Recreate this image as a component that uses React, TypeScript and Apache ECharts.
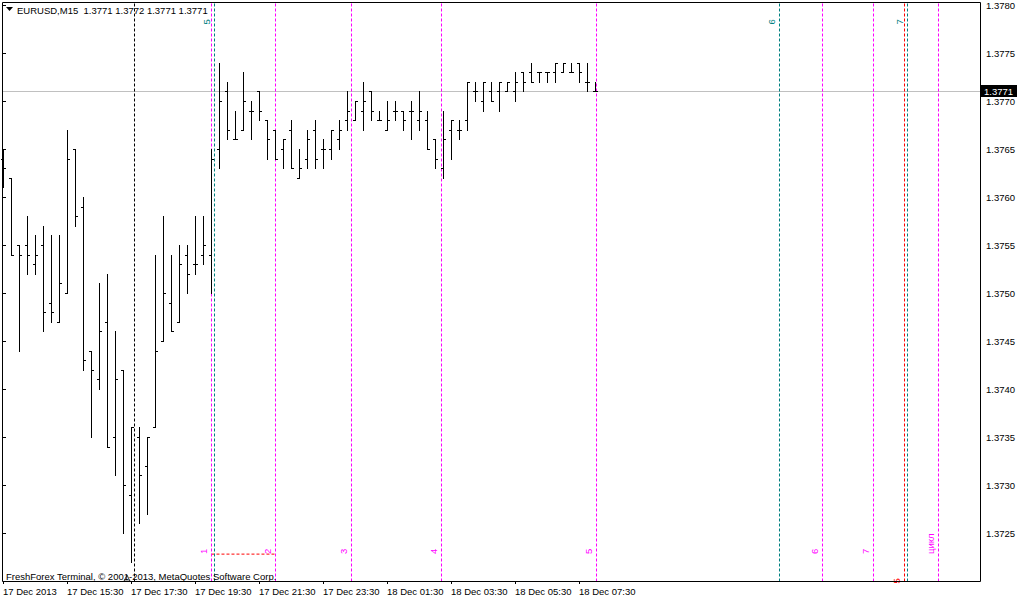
import React, { useEffect, useRef } from "react";
import * as echarts from "echarts";

const FONT = "'Liberation Sans', Arial, sans-serif";
const FS = 9.5;
const Y_MIN = 1.372;
const Y_MAX = 1.378;
const Y_STEP = 0.0005;
const X_MIN = -0.125;
const X_MAX = 122.125;
const CURRENT_PRICE = 1.3771;

// 15-minute bars, 17 Dec 2013 13:30 onwards
const opens = [
  1.3764, 1.3762, 1.3755, 1.3755, 1.3753, 1.3755, 1.3749, 1.3747, 1.375, 1.3765,
  1.3759, 1.3744, 1.3741, 1.3747, 1.3735, 1.3742, 1.3729, 1.3735, 1.3732, 1.3736,
  1.3745, 1.3749, 1.3747, 1.3754, 1.3753, 1.3754, 1.3754, 1.3765, 1.3771, 1.3766,
  1.3767, 1.3769, 1.3771, 1.3768, 1.3767, 1.3765, 1.3767, 1.3762, 1.3764, 1.3767,
  1.3765, 1.3765, 1.3766, 1.3768, 1.3768, 1.3769, 1.3771, 1.3768, 1.3767, 1.3769,
  1.3769, 1.3769, 1.3768, 1.3768, 1.3766, 1.3763, 1.3767, 1.3767, 1.3768, 1.3771,
  1.377, 1.3771, 1.3771, 1.3771, 1.3771, 1.3773, 1.3773, 1.3773, 1.3773, 1.3773,
  1.3773, 1.3773, 1.3774, 1.3772, 1.3771,
];
const highs = [
  1.3765, 1.3762, 1.3755, 1.3758, 1.3756, 1.3757, 1.3756, 1.3756, 1.3767, 1.3765,
  1.376, 1.3744, 1.3751, 1.3752, 1.3746, 1.3742, 1.3736, 1.3736, 1.3735, 1.3754,
  1.3758, 1.3754, 1.3755, 1.3755, 1.3758, 1.3758, 1.3765, 1.3774, 1.3772, 1.3769,
  1.3773, 1.377, 1.3771, 1.3768, 1.3767, 1.3766, 1.3768, 1.3765, 1.3767, 1.3768,
  1.3766, 1.3767, 1.3768, 1.3771, 1.377, 1.3772, 1.3771, 1.3769, 1.377, 1.377,
  1.3769, 1.377, 1.3771, 1.3769, 1.3766, 1.3769, 1.3768, 1.3768, 1.3772, 1.3772,
  1.3772, 1.3772, 1.3772, 1.3772, 1.3773, 1.3773, 1.3774, 1.3773, 1.3773, 1.3774,
  1.3774, 1.3774, 1.3774, 1.3774, 1.3772,
];
const lows = [
  1.3761, 1.3754, 1.3744, 1.3752, 1.3752, 1.3746, 1.3747, 1.3747, 1.375, 1.3757,
  1.3742, 1.3735, 1.374, 1.3734, 1.3731, 1.3725, 1.3722, 1.3726, 1.3727, 1.3736,
  1.3745, 1.3746, 1.3747, 1.375, 1.3752, 1.3753, 1.375, 1.3763, 1.3766, 1.3766,
  1.3767, 1.3766, 1.3768, 1.3764, 1.3764, 1.3763, 1.3763, 1.3762, 1.3763, 1.3763,
  1.3763, 1.3764, 1.3765, 1.3767, 1.3768, 1.3767, 1.3768, 1.3768, 1.3767, 1.3768,
  1.3767, 1.3766, 1.3767, 1.3765, 1.3763, 1.3762, 1.3764, 1.3766, 1.3767, 1.377,
  1.3769, 1.377, 1.3769, 1.3771, 1.377, 1.3771, 1.3772, 1.3772, 1.3772, 1.3772,
  1.3773, 1.3773, 1.3772, 1.3771, 1.3771,
];
const closes = [
  1.3763, 1.3754, 1.3754, 1.3754, 1.3754, 1.3748, 1.3748, 1.3751, 1.3764, 1.3758,
  1.3743, 1.3742, 1.3746, 1.3734, 1.3741, 1.373, 1.3736, 1.3731, 1.3735, 1.3744,
  1.375, 1.3746, 1.3753, 1.3752, 1.3753, 1.3755, 1.3764, 1.377, 1.3767, 1.3766,
  1.377, 1.3769, 1.3769, 1.3766, 1.3764, 1.3766, 1.3763, 1.3763, 1.3766, 1.3764,
  1.3765, 1.3767, 1.3767, 1.3769, 1.377, 1.377, 1.3769, 1.3768, 1.3768, 1.3769,
  1.3768, 1.3769, 1.3769, 1.3765, 1.3764, 1.3766, 1.3768, 1.3767, 1.3772, 1.3771,
  1.3772, 1.377, 1.3772, 1.3772, 1.3772, 1.3772, 1.3772, 1.3773, 1.3773, 1.3774,
  1.3774, 1.3773, 1.3773, 1.3772, 1.3771,
];

const tickIndex = [0, 8, 16, 24, 32, 40, 48, 56, 64, 72];
const tickLabels = [
  "17 Dec 2013", "17 Dec 15:30", "17 Dec 17:30", "17 Dec 19:30", "17 Dec 21:30",
  "17 Dec 23:30", "18 Dec 01:30", "18 Dec 03:30", "18 Dec 05:30", "18 Dec 07:30",
];

// vertical marker lines (position in bar units)
const vLineX = [16.41, 26.06, 26.42, 34.04, 43.54, 54.79, 74.16, 97.04, 102.41, 108.79, 112.59, 113.04, 116.91];
const vLineColor = ["#000000", "#ff00ff", "#008080", "#ff00ff", "#ff00ff", "#ff00ff", "#ff00ff", "#008080", "#ff00ff", "#ff00ff", "#ff0000", "#008080", "#ff00ff"];
const vLineLabel = ["", "1", "5", "2", "3", "4", "5", "6", "6", "7", "5", "7", "цикл"];
const vLinePlace = ["none", "bottom", "top", "bottom", "bottom", "bottom", "bottom", "top", "bottom", "bottom", "floor", "top", "bottom"];

// red dashed segment between lines 1 and 2
const redSegX = [26.06, 34.04];
const redSegY = [1.37228, 1.37228];

// small arrow marker under the low
const arrowMark = [[15.5, 1.37203]];

export default function App() {
  const ref = useRef<HTMLDivElement>(null);
  useEffect(() => {
    const chart = echarts.init(ref.current!, null, { renderer: "svg" });
    const ohlc = opens.map((o, i) => [i, o, highs[i], lows[i], closes[i]]);
    const vData = vLineX.map((x) => [x, Y_MAX]);
    const redSeg = redSegX.map((x, i) => [x, redSegY[i]]);

    const option: any = {
      animation: false,
      backgroundColor: "#ffffff",
      textStyle: { fontFamily: FONT, fontSize: FS, color: "#000" },
      grid: { left: 2, right: 40, top: 4, bottom: 20, containLabel: false },
      xAxis: {
        type: "value",
        min: X_MIN,
        max: X_MAX,
        axisLine: { show: false },
        splitLine: { show: false },
        axisTick: {
          show: true,
          customValues: tickIndex,
          length: 3,
          lineStyle: { color: "#000", width: 1 },
        },
        axisLabel: {
          show: true,
          customValues: tickIndex,
          formatter: (v: number) => tickLabels[tickIndex.indexOf(Math.round(v))] || "",
          align: "left",
          margin: 5,
          color: "#000",
          fontFamily: FONT,
          fontSize: FS,
        },
      },
      yAxis: {
        type: "value",
        position: "right",
        min: Y_MIN,
        max: Y_MAX,
        interval: Y_STEP,
        axisLine: { show: false },
        splitLine: { show: false },
        axisTick: { show: true, length: 3, lineStyle: { color: "#000", width: 1 } },
        axisLabel: {
          show: true,
          showMinLabel: false,
          margin: 6,
          color: "#000",
          fontFamily: FONT,
          fontSize: FS,
          formatter: (v: number) => v.toFixed(4),
        },
      },
      graphic: [
        {
          type: "rect",
          shape: { x: 2.5, y: 2.5, width: 978, height: 579 },
          style: { fill: "none", stroke: "#000", lineWidth: 1 },
          z: 50,
          silent: true,
        },
        {
          type: "polygon",
          shape: { points: [[6, 7], [13, 7], [9.5, 11]] },
          style: { fill: "#000" },
          z: 50,
        },
        {
          type: "text",
          x: 17,
          y: 10.5,
          style: {
            text: "EURUSD,M15\u00a0\u00a01.3771 1.3772 1.3771 1.3771",
            fill: "#000",
            font: `${FS}px ${FONT}`,
            align: "left",
            verticalAlign: "middle",
          },
          z: 50,
        },
        {
          type: "text",
          x: 6,
          y: 576,
          style: {
            text: "FreshForex Terminal, © 2001-2013, MetaQuotes Software Corp.",
            fill: "#000",
            font: `${FS}px ${FONT}`,
            align: "left",
            verticalAlign: "middle",
          },
          z: 50,
        },
      ],
      series: [
        {
          // current price line + price tag
          type: "custom",
          data: [[X_MIN, CURRENT_PRICE]],
          encode: { x: 0, y: 1 },
          silent: true,
          clip: false,
          z: 2,
          renderItem: (params: any, api: any) => {
            const p0 = api.coord([X_MIN, api.value(1)]);
            const p1 = api.coord([X_MAX, api.value(1)]);
            const y = Math.round(p0[1]) + 0.5;
            return {
              type: "group",
              children: [
                {
                  type: "line",
                  shape: { x1: p0[0], y1: y, x2: p1[0], y2: y },
                  style: { stroke: "#c0c0c0", lineWidth: 1 },
                },
                {
                  type: "rect",
                  shape: { x: p1[0] + 1, y: y - 6.5, width: 36, height: 12 },
                  style: { fill: "#000" },
                },
                {
                  type: "text",
                  x: p1[0] + 4,
                  y: y,
                  style: {
                    text: api.value(1).toFixed(4),
                    fill: "#fff",
                    font: `${FS}px ${FONT}`,
                    align: "left",
                    verticalAlign: "middle",
                  },
                },
              ],
            };
          },
        },
        {
          type: "line",
          data: redSeg,
          symbol: "none",
          showSymbol: false,
          silent: true,
          z: 3,
          lineStyle: { color: "#ff0000", width: 1, type: [3, 2] },
        },
        {
          type: "custom",
          data: vData,
          encode: { x: 0, y: 1 },
          silent: true,
          clip: false,
          z: 4,
          renderItem: (params: any, api: any) => {
            const i = params.dataIndex;
            const k = api.value(0);
            const top = api.coord([k, Y_MAX]);
            const bot = api.coord([k, Y_MIN]);
            const x = Math.round(top[0]) + 0.5;
            const color = vLineColor[i];
            const children: any[] = [
              {
                type: "line",
                shape: { x1: x, y1: top[1] - 1.5, x2: x, y2: bot[1] },
                style: { stroke: color, lineWidth: 1, lineDash: [3, 2] },
              },
            ];
            const place = vLinePlace[i];
            if (place !== "none") {
              let ty = bot[1] - 27;
              if (place === "top") ty = top[1] + 19.5;
              if (place === "floor") ty = bot[1] + 2.5;
              children.push({
                type: "text",
                x: x - 8,
                y: ty,
                rotation: Math.PI / 2,
                style: {
                  text: vLineLabel[i],
                  fill: color,
                  font: `${FS}px ${FONT}`,
                  align: "left",
                  verticalAlign: "middle",
                },
              });
            }
            return { type: "group", children };
          },
        },
        {
          type: "custom",
          data: ohlc,
          encode: { x: 0, y: [1, 2, 3, 4] },
          silent: true,
          clip: false,
          z: 10,
          renderItem: (params: any, api: any) => {
            const k = api.value(0);
            const po = api.coord([k, api.value(1)]);
            const ph = api.coord([k, api.value(2)]);
            const pl = api.coord([k, api.value(3)]);
            const pc = api.coord([k, api.value(4)]);
            const x = Math.round(po[0]) + 0.5;
            const yo = Math.round(po[1]) + 0.5;
            const yc = Math.round(pc[1]) + 0.5;
            const yh = Math.round(ph[1]);
            const yl = Math.round(pl[1]) + 1;
            const st = { stroke: "#000", lineWidth: 1 };
            return {
              type: "group",
              children: [
                { type: "line", shape: { x1: x, y1: yh, x2: x, y2: yl }, style: st },
                { type: "line", shape: { x1: x - 2.5, y1: yo, x2: x, y2: yo }, style: st },
                { type: "line", shape: { x1: x, y1: yc, x2: x + 2.5, y2: yc }, style: st },
              ],
            };
          },
        },
        {
          type: "scatter",
          data: arrowMark,
          symbol: "triangle",
          symbolSize: [6, 6],
          silent: true,
          z: 11,
          itemStyle: { color: "rgba(0,0,0,0)", borderColor: "#000", borderWidth: 1 },
        },
      ],
    };
    chart.setOption(option);
    return () => chart.dispose();
  }, []);
  return (
    <div
      ref={ref}
      style={{ position: "fixed", left: 0, top: 0, width: 1020, height: 601, background: "#fff" }}
    />
  );
}
